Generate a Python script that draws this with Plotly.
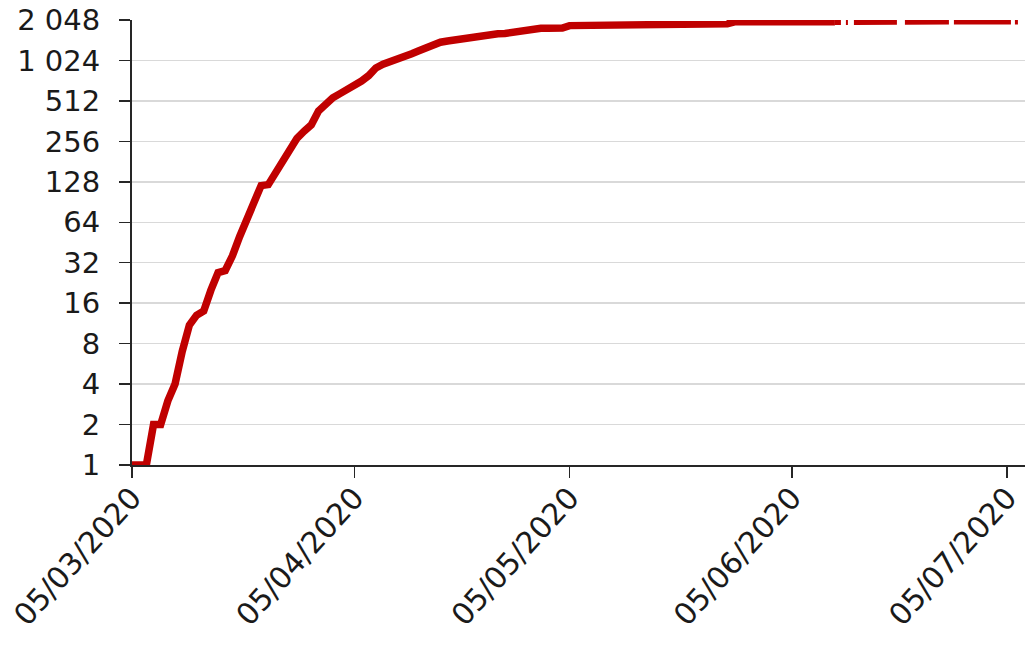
import math
import pandas as pd
import plotly.graph_objects as go

start_date = "2020-03-05"
deaths = [
    1, 1, 1, 2, 2, 3, 4, 7, 11, 13,
    14, 20, 27, 28, 36, 50, 68, 92, 120, 122,
    150, 185, 230, 270, 305, 340, 430, 490, 540, 580,
    620, 660, 720, 790, 900, 960, 1000, 1030, 1090, 1150,
    1210, 1280, 1340, 1400, 1430, 1460, 1490, 1520, 1560, 1600,
    1615, 1620, 1625, 1660, 1700, 1740, 1775, 1778, 1780, 1782,
    1785, 1860, 1862, 1864, 1866, 1868, 1870, 1872, 1915, 1916,
    1916, 1917, 1917, 1918, 1918, 1918, 1919, 1919, 1919, 1920,
    1920, 1920, 1920, 1921, 1985, 1986, 1986, 1987, 1987, 1988,
    1988, 1988, 1989, 1989, 1989, 1990, 1990, 1990, 1990, 1991,
    1992, 1993, 1994, 1995, 1996, 1997, 1998, 1999, 2000, 2000,
    2001, 2001, 2002, 2002, 2003, 2003, 2004, 2004, 2005, 2005,
    2006, 2006, 2007, 2007, 2008,
]
solid_until = 98  # index where the line turns into a broken line

y_tickvals = [1, 2, 4, 8, 16, 32, 64, 128, 256, 512, 1024, 2048]
y_ticktext = ["1", "2", "4", "8", "16", "32", "64", "128", "256", "512", "1 024", "2 048"]
x_tickvals = ["2020-03-05", "2020-04-05", "2020-05-05", "2020-06-05", "2020-07-05"]
x_ticktext = ["05/03/2020", "05/04/2020", "05/05/2020", "05/06/2020", "05/07/2020"]

dates = pd.date_range(start_date, periods=len(deaths), freq="D")

RED = "#C00000"
fig = go.Figure()
fig.add_trace(go.Scatter(
    x=dates[: solid_until + 1], y=deaths[: solid_until + 1], mode="lines",
    line=dict(color=RED, width=7.5), showlegend=False, hoverinfo="skip",
))
fig.add_trace(go.Scatter(
    x=dates[solid_until:], y=deaths[solid_until:], mode="lines",
    line=dict(color=RED, width=6.5, dash="6px,5px,2px,6px,43px,8px,44px,5px,57px,4px,3px,20px"),
    showlegend=False, hoverinfo="skip",
))

font = dict(family="DejaVu Sans", size=29, color="#1a1a1a")
fig.update_layout(
    width=1027, height=648,
    margin=dict(l=132, r=2, t=20, b=183),
    paper_bgcolor="white", plot_bgcolor="white",
    font=font, hovermode=False,
)
fig.update_yaxes(
    type="log", range=[0, math.log10(2048) + 1e-6], tickvals=y_tickvals, ticktext=y_ticktext,
    showgrid=True, gridcolor="#D9D9D9", gridwidth=1.5,
    showline=True, linecolor="#262626", linewidth=2,
    ticks="outside", ticklen=11, tickwidth=1.5, tickcolor="#262626",
    zeroline=False, ticklabelstandoff=13, automargin=False, ticklabeloverflow="allow",
)
fig.update_xaxes(
    type="date", range=["2020-03-05", "2020-07-07 12:00"],
    tickvals=x_tickvals, ticktext=x_ticktext, tickangle=-48,
    tickfont=dict(size=30),
    showgrid=False, showline=True, linecolor="#262626", linewidth=2,
    ticks="outside", ticklen=11, tickwidth=1.5, tickcolor="#262626",
    zeroline=False, ticklabeloverflow="allow", ticklabelstandoff=-10, automargin=False,
)
fig.write_html(
    "out.html",
    config={"displayModeBar": False, "staticPlot": True},
    post_script="document.body.style.margin='0';",
)
